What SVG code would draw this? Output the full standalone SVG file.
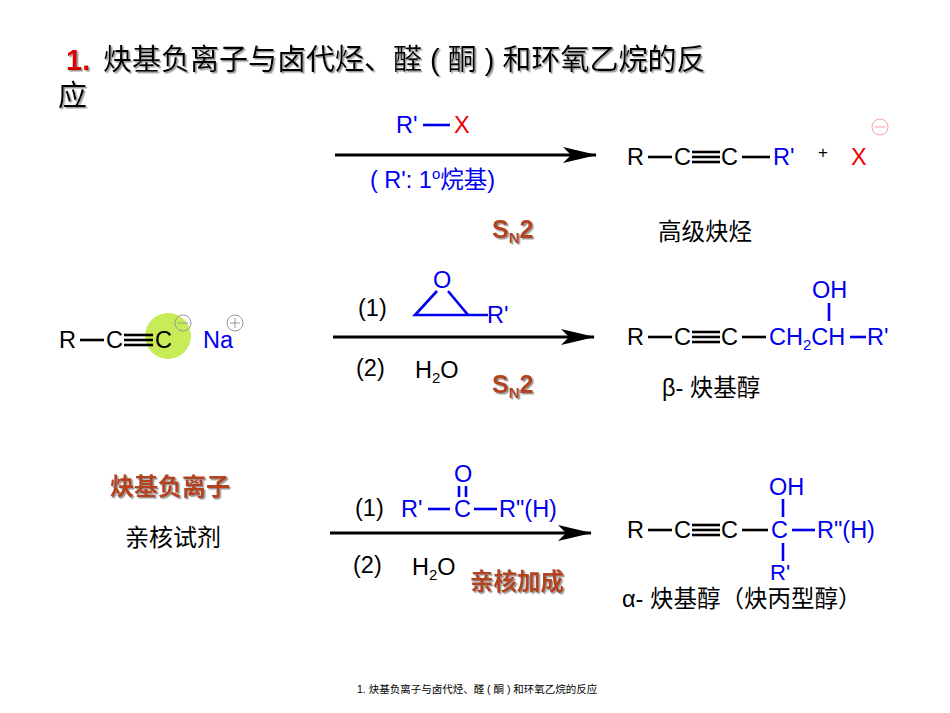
<svg xmlns="http://www.w3.org/2000/svg" width="950" height="713" viewBox="0 0 950 713">
<defs>
<marker id="ah" markerWidth="34" markerHeight="16" refX="33" refY="8" orient="auto" markerUnits="userSpaceOnUse"><path d="M0,0 L34,8 L0,16 L8,8 Z" fill="#000"/></marker>
<filter id="sh" x="-10%" y="-10%" width="130%" height="130%"><feDropShadow dx="1.5" dy="1.5" stdDeviation="0.6" flood-color="#999"/></filter>
</defs>
<style>
text{font-family:"Liberation Sans","Noto Sans CJK SC",sans-serif;font-size:23.5px;fill:#000}
.b{fill:#0000ee}.r{fill:#ee0000}.br{fill:#b4421a;font-weight:bold;filter:url(#sh)}
.sub{font-size:15px}
.bd{stroke:#000;stroke-width:2.6}.bb{stroke:#0000ee;stroke-width:2.6}
.ar{stroke:#000;stroke-width:3;marker-end:url(#ah)}
.t{font-size:29px;filter:url(#sh)}
</style>
<rect width="950" height="713" fill="#fff"/>
<g id="title">
<text x="66" y="70" class="t" style="fill:#dd0000;font-weight:bold">1.</text>
<text x="103" y="70" class="t">炔基负离子与卤代烃、醛 ( 酮 ) 和环氧乙烷的反</text>
<text x="58" y="106" class="t">应</text>
</g>
<g id="connectors">
<line class="ar" x1="335" y1="155" x2="596" y2="155"/>
<line class="ar" x1="333" y1="337" x2="594" y2="337"/>
<line class="ar" x1="330" y1="533" x2="591" y2="533"/>
</g>
<g id="reagent1">
<text x="396" y="133" class="b">R'</text><line class="bb" x1="423" y1="125" x2="450" y2="125"/><text x="454" y="133" class="r">X</text>
<text x="370" y="188" class="b">( R':  1<tspan class="sub" dy="-9">o</tspan><tspan dy="9">烷基)</tspan></text>
<text x="492" y="238" class="br" style="font-size:25px">S<tspan class="sub" dy="5">N</tspan><tspan dy="-5">2</tspan></text>
</g>
<g id="product1">
<text x="627" y="165">R</text><line class="bd" x1="648" y1="157" x2="672" y2="157"/>
<text x="674" y="165">C</text>
<line class="bd" x1="692" y1="152" x2="720" y2="152"/><line class="bd" x1="692" y1="157" x2="720" y2="157"/><line class="bd" x1="692" y1="162" x2="720" y2="162"/>
<text x="721" y="165">C</text><line class="bd" x1="742" y1="157" x2="770" y2="157"/>
<text x="773" y="165" class="b">R'</text>
<text x="818" y="158" style="font-size:17px">+</text>
<text x="851" y="165" class="r">X</text>
<circle cx="880" cy="127" r="8" fill="none" stroke="#f0a0a0" stroke-width="1"/><line x1="875" y1="127" x2="885" y2="127" stroke="#f0a0a0"/>
<text x="658" y="240">高级炔烃</text>
</g>
<g id="reactant">
<circle cx="168" cy="336" r="23" fill="#c8ec58"/>
<text x="59" y="348">R</text><line class="bd" x1="80" y1="340" x2="104" y2="340"/>
<text x="106" y="348">C</text>
<line class="bd" x1="124" y1="335" x2="153" y2="335"/><line class="bd" x1="124" y1="340" x2="153" y2="340"/><line class="bd" x1="124" y1="345" x2="153" y2="345"/>
<text x="155" y="348">C</text>
<circle cx="183" cy="323" r="8" fill="none" stroke="#999" stroke-width="1"/><line x1="178" y1="323" x2="188" y2="323" stroke="#999"/>
<text x="203" y="348" class="b">Na</text>
<circle cx="235" cy="323" r="8" fill="none" stroke="#999" stroke-width="1"/><line x1="230" y1="323" x2="240" y2="323" stroke="#999"/><line x1="235" y1="318" x2="235" y2="328" stroke="#999"/>
</g>
<g id="reagent2">
<text x="358" y="316">(1)</text>
<text x="433" y="288" class="b">O</text>
<path d="M437,291 L415,315 L468,315 L448,291 M468,315 L488,315" fill="none" stroke="#0000ee" stroke-width="2.6"/>
<text x="487" y="323" class="b">R'</text>
<text x="356" y="376">(2)</text>
<text x="415" y="378">H<tspan class="sub" dy="5">2</tspan><tspan dy="-5">O</tspan></text>
<text x="492" y="393" class="br" style="font-size:25px">S<tspan class="sub" dy="5">N</tspan><tspan dy="-5">2</tspan></text>
</g>
<g id="product2">
<text x="627" y="345">R</text><line class="bd" x1="648" y1="337" x2="672" y2="337"/>
<text x="674" y="345">C</text>
<line class="bd" x1="692" y1="332" x2="720" y2="332"/><line class="bd" x1="692" y1="337" x2="720" y2="337"/><line class="bd" x1="692" y1="342" x2="720" y2="342"/>
<text x="721" y="345">C</text><line class="bd" x1="742" y1="337" x2="766" y2="337"/>
<text x="769" y="345" class="b">CH<tspan class="sub" dy="5">2</tspan><tspan dy="-5">CH</tspan></text>
<line class="bb" x1="850" y1="337" x2="866" y2="337"/>
<text x="867" y="345" class="b">R'</text>
<text x="812" y="298" class="b">OH</text>
<line class="bb" x1="829" y1="303" x2="829" y2="321"/>
<text x="662" y="396">β- 炔基醇</text>
</g>
<g id="labels">
<text x="110" y="495" class="br" style="font-size:24px">炔基负离子</text>
<text x="125" y="546" style="font-size:24px">亲核试剂</text>
</g>
<g id="reagent3">
<text x="355" y="516">(1)</text>
<text x="401" y="517" class="b">R'</text><line class="bb" x1="428" y1="509" x2="450" y2="509"/>
<text x="454" y="517" class="b">C</text><line class="bb" x1="474" y1="509" x2="497" y2="509"/>
<text x="499" y="517" class="b">R"(H)</text>
<text x="454" y="482" class="b">O</text>
<line class="bb" x1="459" y1="486" x2="459" y2="497" stroke-width="2"/><line class="bb" x1="466" y1="486" x2="466" y2="497" stroke-width="2"/>
<text x="353" y="573">(2)</text>
<text x="412" y="575">H<tspan class="sub" dy="5">2</tspan><tspan dy="-5">O</tspan></text>
<text x="470" y="590" class="br">亲核加成</text>
</g>
<g id="product3">
<text x="627" y="538">R</text><line class="bd" x1="648" y1="530" x2="672" y2="530"/>
<text x="674" y="538">C</text>
<line class="bd" x1="692" y1="525" x2="720" y2="525"/><line class="bd" x1="692" y1="530" x2="720" y2="530"/><line class="bd" x1="692" y1="535" x2="720" y2="535"/>
<text x="721" y="538">C</text><line class="bd" x1="742" y1="530" x2="768" y2="530"/>
<text x="771" y="538" class="b">C</text><line class="bb" x1="792" y1="530" x2="815" y2="530"/>
<text x="817" y="538" class="b">R"(H)</text>
<text x="769" y="495" class="b">OH</text>
<line class="bb" x1="783" y1="499" x2="783" y2="517"/><line class="bb" x1="783" y1="543" x2="783" y2="561"/>
<text x="770" y="580" class="b" style="font-size:22px">R'</text>
<text x="622" y="607">α- 炔基醇（炔丙型醇）</text>
</g>
<g id="footer">
<text x="357" y="693" style="font-size:10.5px">1. 炔基负离子与卤代烃、醛 ( 酮 ) 和环氧乙烷的反应</text>
</g>
</svg>
